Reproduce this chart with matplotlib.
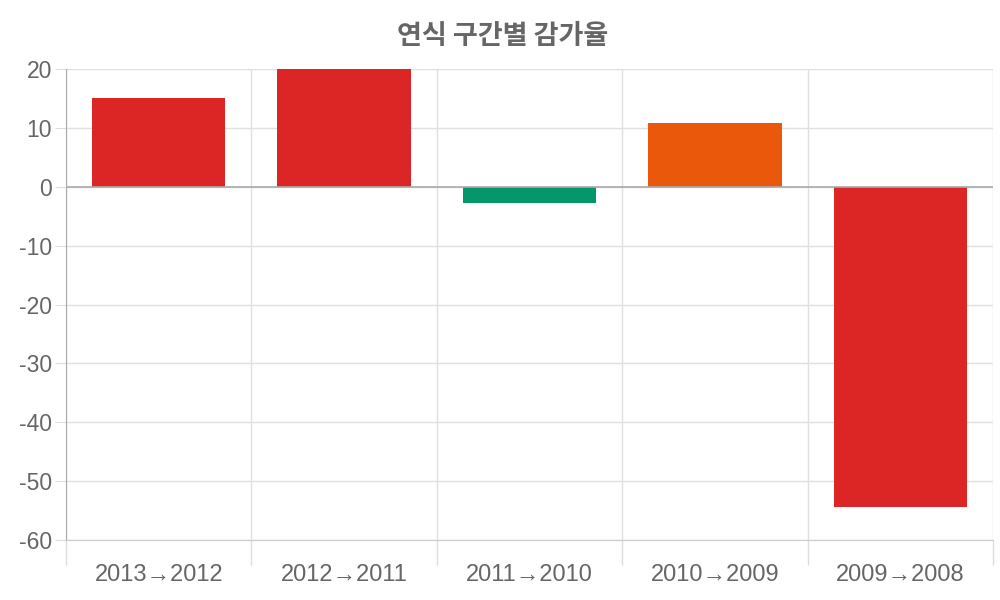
import matplotlib.pyplot as plt

# 데이터
labels = ["2013→2012", "2012→2011", "2011→2010", "2010→2009", "2009→2008"]
values = [15.1, 20.0, -2.8, 10.8, -54.4]
colors = ["#DC2626", "#DC2626", "#059669", "#EA580C", "#DC2626"]

plt.rcParams["font.family"] = ["Liberation Sans", "DejaVu Sans"]
plt.rcParams["axes.unicode_minus"] = False

fig = plt.figure(figsize=(10, 6), dpi=100)
ax = fig.add_axes([0.066, 0.1, 0.927, 0.785])

x = list(range(len(labels)))
ax.bar(x, values, width=0.72, color=colors, zorder=3)

ax.set_xlim(-0.5, len(labels) - 0.5)
ax.set_ylim(-60, 20)
ax.set_yticks(range(-60, 21, 10))

# 카테고리 경계 격자
ax.set_xticks(x)
ax.set_xticklabels(labels)
ax.set_xticks([i - 0.5 for i in range(len(labels) + 1)], minor=True)
ax.tick_params(axis="x", which="major", length=0, pad=17, labelsize=17, labelcolor="#666666")
ax.tick_params(axis="x", which="minor", length=18, color="#dddddd", width=1)
ax.tick_params(axis="y", which="major", length=8, color="#dddddd", labelsize=16.5,
               labelcolor="#666666", pad=2)
ax.grid(True, axis="y", color="#e0e0e0", linewidth=1, zorder=0)
ax.grid(True, axis="x", which="minor", color="#e0e0e0", linewidth=1, zorder=0)

for s in ["top", "right"]:
    ax.spines[s].set_visible(False)
ax.spines["left"].set_color("#aaaaaa")
ax.spines["bottom"].set_color("#cccccc")
ax.axhline(0, color="#aaaaaa", linewidth=1.2, zorder=4)

fig.text(0.503, 0.94, "연식 구간별 감가율", ha="center", va="center", fontsize=19.5,
         fontweight="bold", color="#666666", family=["Noto Sans CJK KR", "DejaVu Sans"])

plt.savefig("out.png")
